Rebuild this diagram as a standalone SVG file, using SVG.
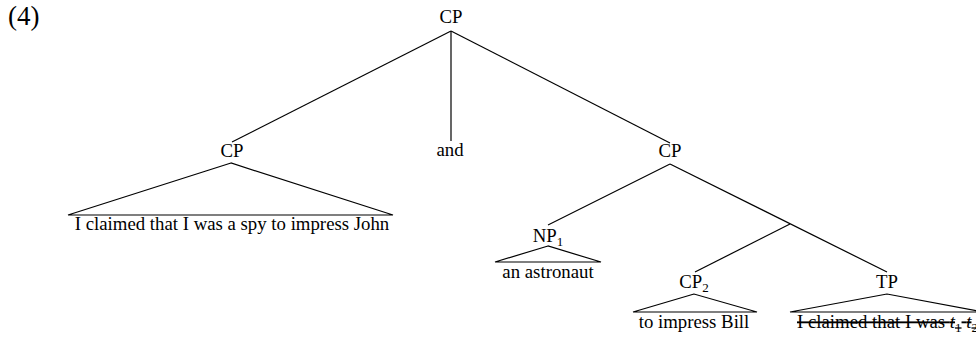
<svg xmlns="http://www.w3.org/2000/svg" width="976" height="349" viewBox="0 0 976 349">
<style>
text{font-family:"Liberation Serif","Times New Roman",serif;font-size:18.8px;fill:#000;text-anchor:middle}
.sub{font-size:13px}
line,polygon{stroke:#000;stroke-width:1.2;fill:none}
</style>
<rect width="976" height="349" fill="#fff"/>
<text x="8" y="25" style="text-anchor:start;font-size:27px">(4)</text>
<g id="connectors">
<line x1="451" y1="31" x2="232" y2="142"/>
<line x1="451" y1="31" x2="451" y2="141"/>
<line x1="451" y1="31" x2="670" y2="143"/>
<line x1="670" y1="164" x2="548" y2="225"/>
<line x1="670" y1="164" x2="887" y2="272"/>
<line x1="790" y1="224" x2="695" y2="272"/>
</g>
<g id="cp-root"><text x="451" y="23">CP</text></g>
<g id="cp-left"><text x="232" y="157">CP</text>
<polygon points="231,163 68,215 393,215"/>
<text x="232" y="230">I claimed that I was a spy to impress John</text></g>
<g id="and"><text x="450" y="156">and</text></g>
<g id="cp-right"><text x="670" y="157">CP</text></g>
<g id="np1"><text x="548" y="242">NP<tspan class="sub" dy="4">1</tspan></text>
<polygon points="548,246 495,262 601,262"/>
<text x="548" y="278">an astronaut</text></g>
<g id="cp2"><text x="694" y="288">CP<tspan class="sub" dy="4">2</tspan></text>
<polygon points="694,294 633,312 757,312"/>
<text x="694" y="328">to impress Bill</text></g>
<g id="tp"><text x="887" y="288">TP</text>
<polygon points="887,294 790,312 984,312"/>
<text x="797" y="328" style="text-anchor:start;text-decoration:line-through">I claimed that I was <tspan font-style="italic">t</tspan><tspan class="sub" dy="4">1</tspan><tspan dy="-4"> </tspan><tspan font-style="italic">t</tspan><tspan class="sub" dy="4">2</tspan></text></g>
</svg>
